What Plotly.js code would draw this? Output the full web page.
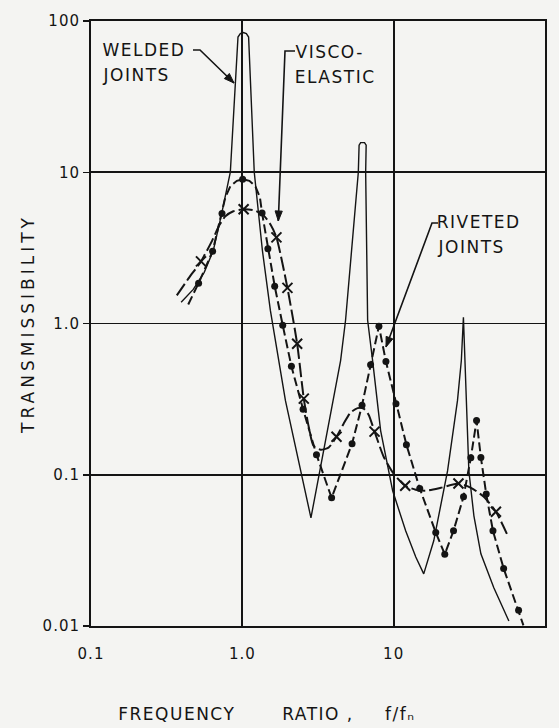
<!DOCTYPE html>
<html><head><meta charset="utf-8">
<script src="https://cdn.plot.ly/plotly-3.0.1.min.js"></script>
<style>html,body{margin:0;padding:0;background:#f4f4f2;} #chart{width:559px;height:728px;}</style>
</head><body><div id="chart"></div>
<script>
// ---- data (frequency ratio f/fn, transmissibility) ----
const weldedX = [0.394,0.474,0.56,0.643,0.726,0.833,0.936,0.97,1.015,1.063,1.10,1.199,1.357,1.532,1.927,2.31,2.68,2.84,3.07,3.29,3.83,4.46,4.81,5.27,5.84,5.91,6.05,6.42,6.58,6.53,6.73,7.26,8.20,9.85,12.0,14.0,15.8,18.4,22.7,26.4,28.0,28.9,30.0,31.4,33.9,37.7,45.9,57.7];
const weldedY = [1.38,1.68,2.18,3.04,5.19,10.0,78.3,82.6,83.9,82.6,78.3,10.0,3.04,1.22,0.309,0.134,0.0673,0.0519,0.0783,0.113,0.265,0.569,1.05,3.04,10.0,15.1,15.7,15.7,15.1,10.0,1.05,0.569,0.196,0.0783,0.0426,0.0286,0.0221,0.0366,0.106,0.309,0.569,1.10,0.419,0.106,0.0535,0.030,0.0179,0.0108];

const rivetedLineX = [0.439,0.514,0.636,0.734,0.772,0.833,0.92,1.005,1.113,1.219,1.306,1.35,1.475,1.636,1.849,2.11,2.52,3.09,3.89,5.31,6.18,7.04,7.99,8.89,10.36,12.14,14.87,18.97,21.76,24.86,28.94,32.35,35.3,37.7,40.9,45.3,53.3,66.9,72.0];
const rivetedLineY = [1.336,1.849,3.0,5.33,6.83,8.08,8.78,8.99,8.78,8.08,6.83,5.38,3.12,1.766,0.974,0.521,0.271,0.1357,0.0704,0.1605,0.2886,0.533,0.96,0.56,0.295,0.158,0.0812,0.0415,0.0298,0.0426,0.0715,0.1296,0.228,0.130,0.0745,0.0426,0.024,0.0127,0.0101];
const rivetedDotX = [0.514,0.636,0.734,1.005,1.35,1.475,1.636,1.849,2.11,2.52,3.09,3.89,5.31,6.18,7.04,7.99,8.89,10.36,12.14,14.87,18.97,21.76,24.86,28.94,32.35,35.3,37.7,40.9,45.3,53.3,66.9];
const rivetedDotY = [1.849,3.0,5.33,8.99,5.38,3.12,1.766,0.974,0.521,0.271,0.1357,0.0704,0.1605,0.2886,0.533,0.96,0.56,0.295,0.158,0.0812,0.0415,0.0298,0.0426,0.0715,0.1296,0.228,0.130,0.0745,0.0426,0.024,0.0127];

const viscoLineX = [0.369,0.446,0.533,0.633,0.704,0.772,0.872,1.02,1.20,1.378,1.532,1.68,1.986,2.303,2.547,2.736,2.953,3.29,3.71,4.19,4.67,5.19,5.78,6.33,6.83,7.48,8.59,10.0,11.92,13.99,16.3,20.5,26.8,32.4,39.4,47.4,56.0];
const viscoLineY = [1.533,2.017,2.574,3.546,4.457,5.11,5.52,5.69,5.60,5.19,4.53,3.71,1.719,0.734,0.3187,0.2112,0.1557,0.1464,0.151,0.1785,0.2177,0.2575,0.2757,0.2736,0.2496,0.1927,0.1316,0.1016,0.0846,0.0796,0.0783,0.082,0.0876,0.082,0.0715,0.0569,0.0407];
const viscoMarkX = [0.533,1.02,1.68,1.986,2.303,2.547,4.19,7.48,11.92,26.8,47.4];
const viscoMarkY = [2.574,5.69,3.71,1.719,0.734,0.3187,0.1785,0.1927,0.0846,0.0876,0.0569];

const xTickVals = [0.1,1,10,100];
const xTickText = ['0.1','1.0','10','100'];
const yTickVals = [0.01,0.1,1,10,100];
const yTickText = ['0.01','0.1','1.0','10','100'];

const ink = '#141414';
const FONT = 'DejaVu Sans, sans-serif';

const traces = [
  {x: weldedX, y: weldedY, mode:'lines', line:{color:ink, width:1.4}},
  {x: rivetedLineX, y: rivetedLineY, mode:'lines', line:{color:ink, width:2, dash:'9px,4px'}},
  {x: rivetedDotX, y: rivetedDotY, mode:'markers', marker:{symbol:'circle', size:7, color:ink}},
  {x: viscoLineX, y: viscoLineY, mode:'lines', line:{color:ink, width:2, dash:'14px,4px', shape:'spline', smoothing:0.6}},
  {x: viscoMarkX, y: viscoMarkY, mode:'markers', marker:{symbol:'x-thin-open', size:10, color:ink, line:{color:ink, width:2}}}
];

// plot-area geometry (pixels) used only to place the label leader lines
const PL = 91, PW = 454, PB = 626, PH = 605;
const px2x = p => (p - PL) / PW;
const px2y = p => (PB - p) / PH;

function lab(text, x, y, extra) {
  return Object.assign({text:text, x:x, y:y, xref:'paper', yref:'paper', xanchor:'left', yanchor:'middle',
    showarrow:false, font:{family:FONT, size:17, color:ink}}, extra||{});
}
// leader: polyline through pixel points, ending with a filled arrowhead at the last point
function leader(pts) {
  const shapes = [];
  const d = pts.map((p,i) => (i ? 'L' : 'M') + px2x(p[0]).toFixed(5) + ',' + px2y(p[1]).toFixed(5)).join(' ');
  shapes.push({type:'path', xref:'paper', yref:'paper', path:d, line:{color:ink, width:1.6}});
  const tip = pts[pts.length-1], prev = pts[pts.length-2];
  const dx = tip[0]-prev[0], dy = tip[1]-prev[1], L = Math.hypot(dx,dy);
  const ux = dx/L, uy = dy/L, hl = 10, hw = 3.6;
  const bx = tip[0]-ux*hl, by = tip[1]-uy*hl;
  const a = [bx-uy*hw, by+ux*hw], b = [bx+uy*hw, by-ux*hw];
  const tri = 'M' + px2x(tip[0]) + ',' + px2y(tip[1]) + ' L' + px2x(a[0]) + ',' + px2y(a[1]) +
              ' L' + px2x(b[0]) + ',' + px2y(b[1]) + ' Z';
  shapes.push({type:'path', xref:'paper', yref:'paper', path:tri, fillcolor:ink, line:{color:ink, width:1}});
  return shapes;
}

const layout = {
  width:559, height:728,
  margin:{l:91, r:14, t:21, b:102},
  paper_bgcolor:'#f4f4f2', plot_bgcolor:'#f4f4f2',
  showlegend:false,
  font:{family:FONT, color:ink},
  xaxis:{type:'log', range:[-1,2], tickmode:'array', tickvals:xTickVals, ticktext:xTickText,
    title:{text:'RATIO ,', font:{family:FONT, size:17, color:ink}, standoff:46},
    showgrid:true, gridcolor:ink, gridwidth:1.8, zeroline:false, showline:true, mirror:true,
    linecolor:ink, linewidth:2, ticks:'outside', ticklen:13, tickcolor:'rgba(0,0,0,0)',
    tickfont:{family:FONT, size:15, color:ink}, fixedrange:true},
  yaxis:{type:'log', range:[-2,2], tickmode:'array', tickvals:yTickVals, ticktext:yTickText,
    title:{text:'TRANSMISSIBILITY', font:{family:FONT, size:17, color:ink}, standoff:8},
    showgrid:true, gridcolor:ink, gridwidth:1.8, zeroline:false, showline:true, mirror:true,
    linecolor:ink, linewidth:2, ticks:'outside', ticklen:6, tickwidth:1.5, tickcolor:ink,
    tickfont:{family:FONT, size:15, color:ink}, fixedrange:true},
  annotations:[
    lab('WELDED', 0.031, 0.952),
    lab('JOINTS', 0.031, 0.911),
    lab('VISCO-', 0.456, 0.949),
    lab('ELASTIC', 0.456, 0.907),
    lab('RIVETED', 0.769, 0.668),
    lab('JOINTS', 0.769, 0.626),
    lab('FREQUENCY', 0.1894, -0.145, {xanchor:'center'}),
    lab('f/f\u2099', 0.681, -0.145, {xanchor:'center'})
  ],
  shapes:[].concat(
    leader([[193,50],[200,50],[234,83]]),
    leader([[295,51],[285,51],[278.3,221]]),
    leader([[438,223],[432,223],[386,347]])
  )
};

Plotly.newPlot('chart', traces, layout, {staticPlot:true, displayModeBar:false}).then(function(){
  document.querySelectorAll('.annotation-text, .g-xtitle text').forEach(function(t){
    if (t.textContent.length) t.style.letterSpacing = '1.5px';
  });
  document.querySelectorAll('.g-ytitle text').forEach(function(t){ t.style.letterSpacing = '4px'; });
  document.querySelectorAll('.xtick text, .ytick text').forEach(function(t){ t.style.letterSpacing = '1px'; });
});
</script></body></html>
